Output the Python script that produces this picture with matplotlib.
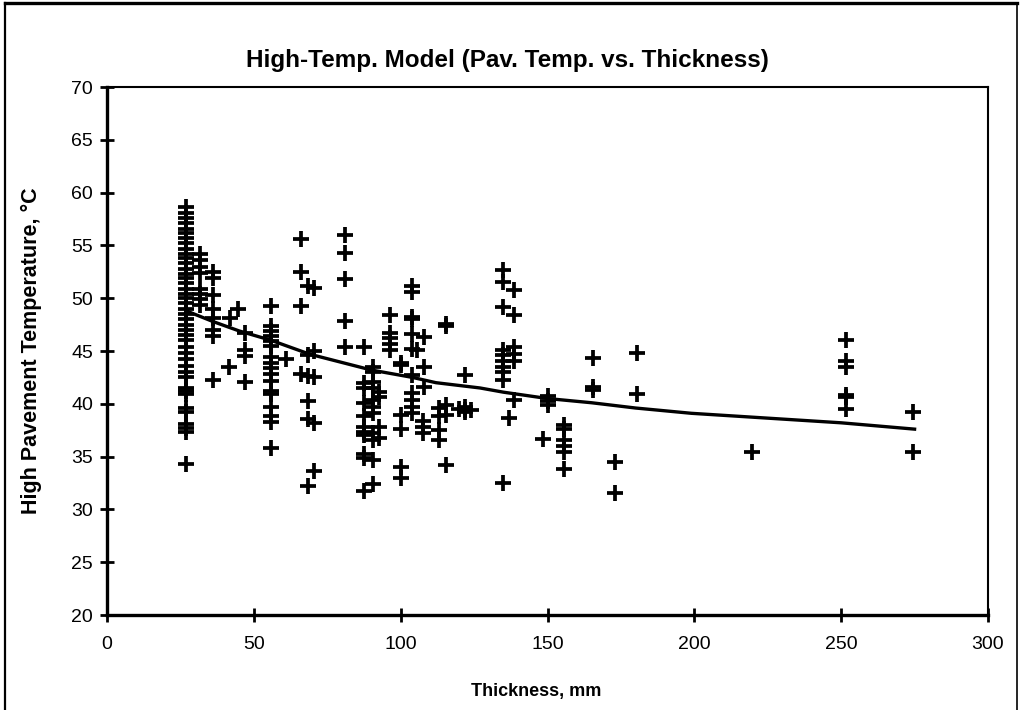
import matplotlib
matplotlib.use("Agg")
import matplotlib.pyplot as plt
from matplotlib.lines import Line2D

plt.rcParams['font.family'] = ['Liberation Sans', 'DejaVu Sans']

# measured points, grouped by thickness (mm) -> temperatures (C)
col_thickness = [27, 31.5, 36, 41.5, 42, 44.5, 47, 56, 61, 66, 68.5, 70.5, 81,
                 87.5, 90.5, 92.5, 96.5, 100, 104, 105.5, 108, 107.5, 113,
                 115.5, 120, 122, 124, 135, 137, 138.5, 148.5, 150, 155.5,
                 165.5, 173, 180.5, 219.5, 251.5, 274.5]
col_temps = [
    [58.6, 58.1, 57.6, 57.1, 56.6, 56.2, 55.7, 55.2, 54.7, 54.2, 53.8, 53.3,
     52.8, 52.3, 51.9, 51.4, 50.9, 50.4, 50.0, 49.5, 49.0, 48.5, 48.0, 47.5,
     47.0, 46.5, 46.0, 45.4, 44.8, 44.2, 43.6, 43.0, 42.5, 41.5, 41.2, 40.9,
     39.6, 39.2, 38.1, 37.7, 37.3, 34.3],
    [54.2, 53.6, 53.0, 52.4, 50.9, 50.4, 49.9, 49.4],
    [52.5, 51.9, 50.3, 49.0, 48.1, 47.0, 46.4, 42.3],
    [43.5],
    [48.1],
    [49.0],
    [46.7, 45.1, 44.5, 42.1],
    [49.3, 47.4, 46.9, 46.4, 45.9, 45.5, 44.4, 43.9, 43.4, 42.8, 42.2, 41.2,
     40.9, 39.7, 38.8, 38.3, 35.8],
    [44.2],
    [55.6, 52.5, 49.3, 42.8],
    [51.2, 44.6, 42.6, 40.3, 38.6, 32.2],
    [51.0, 45.0, 42.5, 38.2, 33.6],
    [56.0, 54.3, 51.8, 47.8, 45.4],
    [45.4, 42.0, 41.5, 40.1, 38.8, 37.8, 37.3, 37.0, 35.2, 34.9, 31.7],
    [43.5, 43.0, 42.1, 41.5, 40.4, 39.7, 39.1, 37.2, 36.6, 34.7, 32.4],
    [41.1, 40.6, 37.8, 36.8],
    [48.4, 46.7, 46.2, 45.7, 45.1],
    [43.9, 43.7, 38.9, 37.6, 34.0, 33.0],
    [51.2, 50.6, 48.2, 48.0, 46.6, 45.2, 42.7, 41.0, 40.4, 39.7, 39.1],
    [45.1],
    [46.3, 43.5, 41.6],
    [38.4, 37.8, 37.2],
    [39.6, 38.8, 37.5, 36.6],
    [47.6, 47.4, 39.9, 38.9, 34.2],
    [39.5],
    [42.7, 39.7, 39.4, 39.2],
    [39.4],
    [52.7, 51.5, 49.2, 45.1, 44.6, 44.1, 43.5, 43.0, 42.3, 32.5],
    [38.7],
    [50.8, 48.4, 45.4, 44.7, 44.1, 40.4],
    [36.7],
    [40.7, 40.3, 39.9],
    [38.0, 37.6, 36.6, 36.0, 35.4, 33.8],
    [44.3, 41.6, 41.3],
    [34.5, 31.6],
    [44.8, 40.9],
    [35.4],
    [46.0, 44.1, 43.5, 40.8, 40.6, 39.5],
    [39.2, 35.4],
]

# trend line
trend_x = [27, 36, 45, 56, 69, 90, 104, 112, 127, 135, 150, 165, 180, 199, 250, 275]
trend_y = [48.8, 47.8, 46.9, 46.0, 44.7, 43.2, 42.5, 42.0, 41.5, 41.1, 40.5,
           40.1, 39.6, 39.1, 38.2, 37.6]

x_ticks = [0, 50, 100, 150, 200, 250, 300]
y_ticks = [20, 25, 30, 35, 40, 45, 50, 55, 60, 65, 70]

xs, ys = [], []
for t, temps in zip(col_thickness, col_temps):
    for v in temps:
        xs.append(t)
        ys.append(v)

fig = plt.figure(figsize=(10.21, 7.10), dpi=100)
ax = fig.add_axes([107 / 1021, 95 / 710, 881 / 1021, 528 / 710])

ax.plot(xs, ys, linestyle='none', marker='+', color='black',
        markersize=11.5, markeredgewidth=2.7)
ax.plot(trend_x, trend_y, color='black', linewidth=2.4)

ax.set_xlim(0, 300)
ax.set_ylim(20, 70)
ax.set_xticks(x_ticks)
ax.set_yticks(y_ticks)
ax.tick_params(direction='inout', length=10, width=2, labelsize=14,
               color='black')
ax.tick_params(axis='x', pad=10)
ax.tick_params(axis='y', pad=5)

for side in ['left', 'bottom']:
    ax.spines[side].set_linewidth(2.4)
for side in ['top', 'right']:
    ax.spines[side].set_linewidth(1.5)

ax.set_xlabel('Thickness, mm', fontsize=13, fontweight='bold')
ax.xaxis.set_label_coords(0.487, -0.128)
ax.set_ylabel('High Pavement Temperature, °C', fontsize=15.5, fontweight='bold')
ax.yaxis.set_label_coords(-0.074, 0.5)

fig.text(0.497, 0.915, 'High-Temp. Model (Pav. Temp. vs. Thickness)',
         ha='center', va='center', fontsize=17.5, fontweight='bold')

# outer chart border
fig.add_artist(Line2D([5 / 1021, 5 / 1021], [0, 707 / 710], color='black', lw=1.6))
fig.add_artist(Line2D([5 / 1021, 1017 / 1021], [707 / 710, 707 / 710], color='black', lw=2.4))
fig.add_artist(Line2D([1017 / 1021, 1017 / 1021], [0, 707 / 710], color='black', lw=1.2))

fig.savefig('out.png', dpi=100)
